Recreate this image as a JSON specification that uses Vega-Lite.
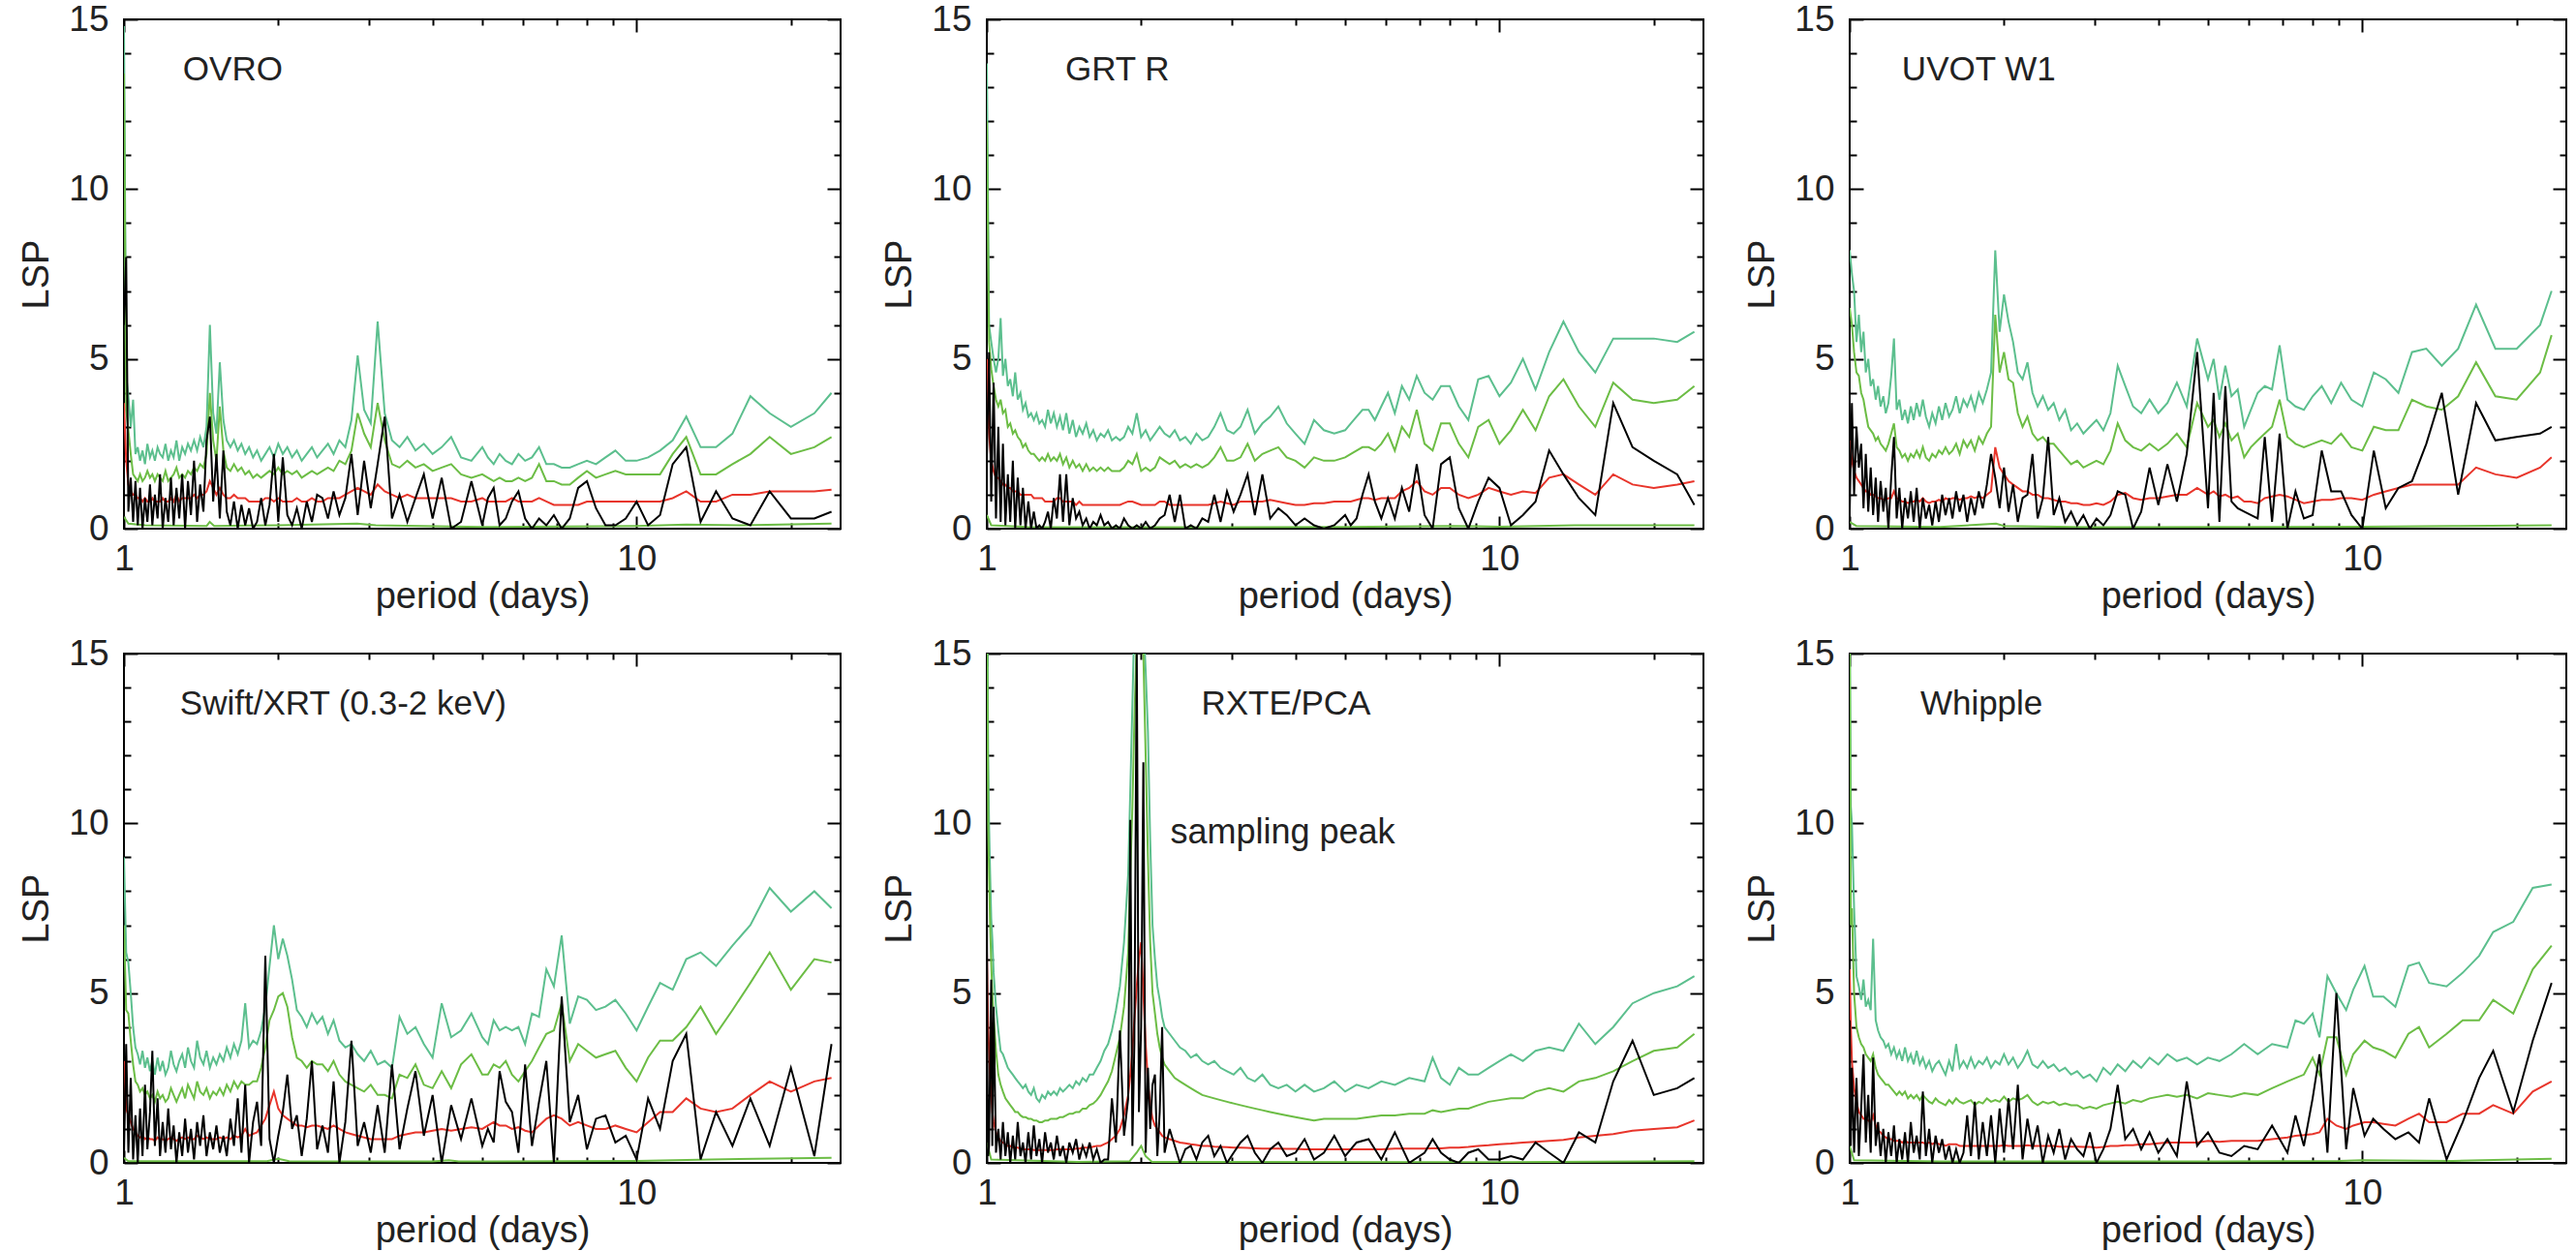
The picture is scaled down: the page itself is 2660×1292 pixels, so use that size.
{
"$schema":"https://vega.github.io/schema/vega-lite/v6.json",
"background":"white",
"padding":{"left":18,"top":0,"right":10,"bottom":10},
"config":{"view":{"stroke":"#000","strokeWidth":2},
"axis":{"domain":false,"grid":false,"tickColor":"#000","tickWidth":2,"labelFont":"Liberation Sans","labelFontSize":37,"labelColor":"#222","titleFont":"Liberation Sans","titleFontSize":38,"titleFontWeight":"normal","titleColor":"#222","labelOverlap":false},
"text":{"font":"Liberation Sans","fontSize":35,"color":"#222"}},
"datasets":{
"low":[
{"p":"OVRO","x":1,"l":0.35},{"p":"OVRO","x":1.02,"l":0.15},{"p":"OVRO","x":1.1,"l":0.1},{"p":"OVRO","x":1.45,"l":0.08},{"p":"OVRO","x":1.47,"l":0.2},{"p":"OVRO","x":1.5,"l":0.08},{"p":"OVRO","x":2,"l":0.1},{"p":"OVRO","x":2.85,"l":0.15},{"p":"OVRO","x":3.1,"l":0.1},{"p":"OVRO","x":5,"l":0.05},{"p":"OVRO","x":10,"l":0.08},{"p":"OVRO","x":12.5,"l":0.12},{"p":"OVRO","x":16,"l":0.1},{"p":"OVRO","x":24,"l":0.15},
{"p":"GRT","x":1,"l":0.4},{"p":"GRT","x":1.02,"l":0.1},{"p":"GRT","x":1.2,"l":0.05},{"p":"GRT","x":2,"l":0.04},{"p":"GRT","x":5,"l":0.05},{"p":"GRT","x":8,"l":0.08},{"p":"GRT","x":10,"l":0.06},{"p":"GRT","x":14,"l":0.1},{"p":"GRT","x":24,"l":0.1},
{"p":"UVOT","x":1,"l":0.2},{"p":"UVOT","x":1.03,"l":0.08},{"p":"UVOT","x":1.5,"l":0.05},{"p":"UVOT","x":1.93,"l":0.15},{"p":"UVOT","x":2,"l":0.08},{"p":"UVOT","x":3,"l":0.04},{"p":"UVOT","x":6,"l":0.05},{"p":"UVOT","x":10,"l":0.06},{"p":"UVOT","x":15,"l":0.08},{"p":"UVOT","x":23.4,"l":0.1},
{"p":"XRT","x":1,"l":0.15},{"p":"XRT","x":1.02,"l":0.05},{"p":"XRT","x":1.9,"l":0.05},{"p":"XRT","x":2,"l":0.12},{"p":"XRT","x":2.1,"l":0.05},{"p":"XRT","x":4,"l":0.04},{"p":"XRT","x":4.3,"l":0.08},{"p":"XRT","x":4.5,"l":0.04},{"p":"XRT","x":10,"l":0.06},{"p":"XRT","x":14,"l":0.1},{"p":"XRT","x":24,"l":0.15},
{"p":"PCA","x":1,"l":0.6},{"p":"PCA","x":1.02,"l":0.1},{"p":"PCA","x":1.5,"l":0.03},{"p":"PCA","x":1.9,"l":0.05},{"p":"PCA","x":1.96,"l":0.3},{"p":"PCA","x":2,"l":0.5},{"p":"PCA","x":2.04,"l":0.2},{"p":"PCA","x":2.1,"l":0.03},{"p":"PCA","x":10,"l":0.02},{"p":"PCA","x":24,"l":0.05},
{"p":"WHI","x":1,"l":0.5},{"p":"WHI","x":1.02,"l":0.08},{"p":"WHI","x":1.5,"l":0.04},{"p":"WHI","x":5,"l":0.04},{"p":"WHI","x":9,"l":0.06},{"p":"WHI","x":10,"l":0.08},{"p":"WHI","x":15,"l":0.06},{"p":"WHI","x":20,"l":0.1},{"p":"WHI","x":23.4,"l":0.12}],
"ovro":[
{"x":1,"a":14.8,"b":13.4,"m":3.7,"k":6},{"x":1.01,"a":4.5,"b":3.5,"m":2,"k":8},{"x":1.02,"a":3.9,"b":2.9,"m":1.3,"k":0.5},{"x":1.031,"a":3,"b":2.2,"m":1.1,"k":1.5},{"x":1.042,"a":3.8,"b":1.6,"m":1,"k":0.2},{"x":1.053,"a":2.2,"b":1.5,"m":1,"k":1.4},{"x":1.064,"a":2.4,"b":1.4,"m":0.9,"k":0.1},{"x":1.075,"a":2,"b":1.6,"m":0.9,"k":1.2},{"x":1.087,"a":2.3,"b":1.4,"m":0.8,"k":0},{"x":1.099,"a":1.9,"b":1.5,"m":0.9,"k":0.9},
{"x":1.111,"a":2.5,"b":1.7,"m":0.8,"k":0.2},{"x":1.124,"a":2.1,"b":1.5,"m":0.8,"k":1.3},{"x":1.136,"a":2.3,"b":1.6,"m":0.9,"k":0.1},{"x":1.149,"a":2,"b":1.4,"m":0.8,"k":1},{"x":1.163,"a":2.4,"b":1.6,"m":0.8,"k":0.3},{"x":1.176,"a":2.2,"b":1.5,"m":0.8,"k":1.6},{"x":1.19,"a":2.1,"b":1.4,"m":0.9,"k":0},{"x":1.205,"a":2.5,"b":1.7,"m":0.8,"k":0.9},{"x":1.22,"a":2,"b":1.4,"m":0.8,"k":0.2},{"x":1.235,"a":2.3,"b":1.5,"m":0.9,"k":1.5},
{"x":1.25,"a":2.1,"b":1.6,"m":0.8,"k":0.1},{"x":1.266,"a":2.6,"b":1.8,"m":1,"k":1.2},{"x":1.282,"a":2,"b":1.5,"m":0.8,"k":0.3},{"x":1.299,"a":2.4,"b":1.6,"m":0.9,"k":1.6},{"x":1.316,"a":2.2,"b":1.5,"m":0.9,"k":0},{"x":1.333,"a":2.5,"b":1.7,"m":0.9,"k":1.4},{"x":1.351,"a":2.3,"b":1.6,"m":0.9,"k":0.4},{"x":1.37,"a":2.6,"b":1.8,"m":1,"k":2},{"x":1.389,"a":2.3,"b":1.7,"m":0.9,"k":0.2},{"x":1.408,"a":2.7,"b":1.9,"m":1,"k":1.3},
{"x":1.429,"a":2.4,"b":1.8,"m":1,"k":0.5},{"x":1.449,"a":3,"b":2.2,"m":1.1,"k":2.6},{"x":1.471,"a":6,"b":4,"m":1.4,"k":3.3},{"x":1.493,"a":3.4,"b":2.6,"m":1.2,"k":0.8},{"x":1.515,"a":2.8,"b":2,"m":1,"k":2.2},{"x":1.538,"a":4.9,"b":3.6,"m":1.2,"k":0.3},{"x":1.563,"a":3.2,"b":2.3,"m":1,"k":2.3},{"x":1.587,"a":2.6,"b":1.8,"m":0.9,"k":0.5},{"x":1.613,"a":2.4,"b":1.7,"m":0.9,"k":0.1},{"x":1.639,"a":2.6,"b":1.9,"m":1,"k":0.8},
{"x":1.667,"a":2.3,"b":1.7,"m":0.9,"k":0},{"x":1.695,"a":2.5,"b":1.8,"m":0.9,"k":0.7},{"x":1.724,"a":2.2,"b":1.6,"m":0.9,"k":0.1},{"x":1.754,"a":2.4,"b":1.7,"m":0.8,"k":0.6},{"x":1.786,"a":2.1,"b":1.5,"m":0.8,"k":0},{"x":1.818,"a":2.3,"b":1.6,"m":0.8,"k":0.2},{"x":1.852,"a":2,"b":1.5,"m":0.8,"k":0.9},{"x":1.887,"a":2.2,"b":1.6,"m":0.9,"k":0.1},{"x":1.923,"a":2.4,"b":1.7,"m":0.9,"k":0.7},{"x":1.961,"a":2.1,"b":1.6,"m":0.8,"k":2.2},
{"x":2,"a":2.5,"b":1.8,"m":0.9,"k":0.2},{"x":2.041,"a":2.2,"b":1.6,"m":0.8,"k":2.1},{"x":2.083,"a":2.4,"b":1.7,"m":0.8,"k":0.4},{"x":2.128,"a":2.1,"b":1.6,"m":0.8,"k":0.1},{"x":2.174,"a":2.3,"b":1.7,"m":0.9,"k":0.6},{"x":2.222,"a":2,"b":1.5,"m":0.8,"k":0},{"x":2.273,"a":2.2,"b":1.6,"m":0.8,"k":0.8},{"x":2.326,"a":2.4,"b":1.7,"m":0.9,"k":0.2},{"x":2.381,"a":2.1,"b":1.6,"m":0.8,"k":1},{"x":2.439,"a":2.3,"b":1.7,"m":0.8,"k":0.9},
{"x":2.5,"a":2.5,"b":1.8,"m":0.9,"k":0.3},{"x":2.564,"a":2.2,"b":1.7,"m":0.9,"k":1.1},{"x":2.632,"a":2.6,"b":2,"m":0.9,"k":0.4},{"x":2.703,"a":2.4,"b":1.9,"m":1,"k":0.9},{"x":2.778,"a":3.2,"b":2.3,"m":1.1,"k":2.2},{"x":2.857,"a":5.1,"b":3.4,"m":1.2,"k":0.4},{"x":2.941,"a":3.5,"b":2.8,"m":1.1,"k":2},{"x":3.03,"a":3.1,"b":2.4,"m":1,"k":0.6},{"x":3.125,"a":6.1,"b":3.7,"m":1.3,"k":1.9},{"x":3.226,"a":3.4,"b":2.6,"m":1.1,"k":3.3},
{"x":3.333,"a":2.6,"b":1.9,"m":1,"k":0.3},{"x":3.448,"a":2.4,"b":1.8,"m":0.9,"k":1},{"x":3.571,"a":2.7,"b":2,"m":1,"k":0.2},{"x":3.704,"a":2.3,"b":1.8,"m":0.9,"k":0.9},{"x":3.846,"a":2.5,"b":1.9,"m":0.9,"k":1.6},{"x":4,"a":2.2,"b":1.7,"m":0.9,"k":0.3},{"x":4.167,"a":2.4,"b":1.8,"m":0.9,"k":1.5},{"x":4.348,"a":2.7,"b":1.9,"m":0.9,"k":0},{"x":4.545,"a":2.1,"b":1.6,"m":0.8,"k":0.2},{"x":4.762,"a":2,"b":1.5,"m":0.8,"k":1.4},
{"x":5,"a":2.4,"b":1.6,"m":0.9,"k":0.1},{"x":5.128,"a":2.1,"b":1.5,"m":0.8,"k":0.9},{"x":5.263,"a":1.9,"b":1.4,"m":0.8,"k":1.2},{"x":5.405,"a":2.2,"b":1.5,"m":0.8,"k":0.1},{"x":5.556,"a":2,"b":1.4,"m":0.8,"k":0.3},{"x":5.714,"a":1.9,"b":1.4,"m":0.9,"k":0.8},{"x":5.882,"a":2.2,"b":1.5,"m":0.8,"k":1.1},{"x":6.061,"a":2,"b":1.4,"m":0.8,"k":0.3},{"x":6.25,"a":2.1,"b":1.5,"m":0.8,"k":0},{"x":6.452,"a":2.4,"b":1.9,"m":0.9,"k":0.3},
{"x":6.667,"a":1.9,"b":1.4,"m":0.8,"k":0.1},{"x":6.897,"a":1.9,"b":1.4,"m":0.7,"k":0.4},{"x":7.143,"a":1.8,"b":1.3,"m":0.7,"k":0},{"x":7.407,"a":1.8,"b":1.3,"m":0.7,"k":0.3},{"x":7.692,"a":1.9,"b":1.5,"m":0.7,"k":1.2},{"x":8,"a":2,"b":1.7,"m":0.8,"k":1.4},{"x":8.333,"a":1.9,"b":1.5,"m":0.8,"k":0.6},{"x":8.696,"a":2.1,"b":1.6,"m":0.8,"k":0.1},{"x":9.091,"a":2.3,"b":1.7,"m":0.8,"k":0.1},{"x":9.524,"a":2,"b":1.6,"m":0.8,"k":0.3},
{"x":10,"a":2,"b":1.6,"m":0.8,"k":0.8},{"x":10.53,"a":2.1,"b":1.6,"m":0.8,"k":0.1},{"x":11.11,"a":2.3,"b":1.6,"m":0.8,"k":0.4},{"x":11.76,"a":2.6,"b":2.2,"m":0.9,"k":1.9},{"x":12.5,"a":3.3,"b":2.7,"m":1.1,"k":2.4},{"x":13.33,"a":2.4,"b":1.6,"m":0.8,"k":0.2},{"x":14.29,"a":2.4,"b":1.6,"m":0.8,"k":1.1},{"x":15.38,"a":2.8,"b":1.9,"m":1,"k":0.3},{"x":16.67,"a":3.9,"b":2.2,"m":1,"k":0.1},{"x":18.18,"a":3.4,"b":2.7,"m":1.1,"k":1.1},
{"x":20,"a":3,"b":2.2,"m":1.1,"k":0.3},{"x":22.22,"a":3.4,"b":2.4,"m":1.1,"k":0.3},{"x":24,"a":4,"b":2.7,"m":1.15,"k":0.5}],
"grt":[
{"x":1,"a":13.7,"b":12,"m":5,"k":2},{"x":1.01,"a":6,"b":5.5,"m":2.8,"k":5.2},{"x":1.02,"a":5.5,"b":4.7,"m":2,"k":0.8},{"x":1.031,"a":5,"b":4.2,"m":1.7,"k":4.3},{"x":1.042,"a":4.6,"b":3.8,"m":1.5,"k":0.3},{"x":1.053,"a":5,"b":3.6,"m":1.5,"k":3},{"x":1.064,"a":6.2,"b":3.8,"m":1.4,"k":0.2},{"x":1.075,"a":4.5,"b":3.4,"m":1.3,"k":2.5},{"x":1.087,"a":5,"b":3.5,"m":1.3,"k":0.1},{"x":1.099,"a":4.2,"b":3,"m":1.2,"k":1.6},
{"x":1.111,"a":4.4,"b":3.1,"m":1.2,"k":0.2},{"x":1.124,"a":3.9,"b":2.8,"m":1.1,"k":2},{"x":1.136,"a":4.6,"b":2.9,"m":1.1,"k":0},{"x":1.149,"a":3.8,"b":2.7,"m":1.1,"k":1.5},{"x":1.163,"a":4,"b":2.6,"m":1,"k":0.1},{"x":1.176,"a":3.5,"b":2.4,"m":1,"k":1.2},{"x":1.19,"a":3.7,"b":2.5,"m":1,"k":0},{"x":1.205,"a":3.3,"b":2.3,"m":1,"k":0.8},{"x":1.22,"a":3.4,"b":2.2,"m":1,"k":0},{"x":1.235,"a":3.2,"b":2.2,"m":0.9,"k":0.5},
{"x":1.25,"a":3.4,"b":2.1,"m":0.9,"k":0},{"x":1.266,"a":3.1,"b":2,"m":0.9,"k":0.1},{"x":1.282,"a":3.2,"b":2.1,"m":0.9,"k":0},{"x":1.299,"a":3,"b":2,"m":0.8,"k":0.2},{"x":1.316,"a":3.5,"b":2.2,"m":0.8,"k":0.5},{"x":1.333,"a":3.1,"b":2,"m":0.8,"k":0},{"x":1.351,"a":3.4,"b":2.1,"m":0.8,"k":0.9},{"x":1.37,"a":3,"b":2,"m":0.9,"k":0.3},{"x":1.389,"a":3.3,"b":2.2,"m":0.9,"k":1.6},{"x":1.408,"a":2.9,"b":1.9,"m":0.8,"k":0.2},
{"x":1.429,"a":3.4,"b":2.1,"m":0.8,"k":1.6},{"x":1.449,"a":2.8,"b":1.8,"m":0.8,"k":0.1},{"x":1.471,"a":3.2,"b":2,"m":0.8,"k":0.9},{"x":1.493,"a":2.7,"b":1.8,"m":0.7,"k":0.3},{"x":1.515,"a":3,"b":1.9,"m":0.8,"k":0.5},{"x":1.538,"a":2.8,"b":1.7,"m":0.7,"k":0.1},{"x":1.563,"a":3.1,"b":1.9,"m":0.7,"k":0.3},{"x":1.587,"a":2.7,"b":1.7,"m":0.7,"k":0},{"x":1.613,"a":2.9,"b":1.8,"m":0.7,"k":0.2},{"x":1.639,"a":2.6,"b":1.7,"m":0.7,"k":0.1},
{"x":1.667,"a":2.8,"b":1.8,"m":0.7,"k":0.4},{"x":1.695,"a":2.7,"b":1.7,"m":0.7,"k":0.1},{"x":1.724,"a":2.9,"b":1.8,"m":0.7,"k":0.2},{"x":1.754,"a":2.6,"b":1.7,"m":0.7,"k":0},{"x":1.786,"a":2.7,"b":1.7,"m":0.7,"k":0.1},{"x":1.818,"a":2.6,"b":1.7,"m":0.7,"k":0},{"x":1.852,"a":2.7,"b":1.8,"m":0.75,"k":0.3},{"x":1.887,"a":3,"b":2,"m":0.8,"k":0.1},{"x":1.923,"a":2.8,"b":1.9,"m":0.8,"k":0},{"x":1.961,"a":3.4,"b":2.2,"m":0.75,"k":0.1},
{"x":2,"a":2.7,"b":1.7,"m":0.7,"k":0},{"x":2.041,"a":2.9,"b":1.8,"m":0.7,"k":0.2},{"x":2.083,"a":2.6,"b":1.7,"m":0.7,"k":0},{"x":2.128,"a":2.8,"b":1.8,"m":0.7,"k":0.1},{"x":2.174,"a":3,"b":2.1,"m":0.8,"k":0.3},{"x":2.222,"a":2.8,"b":2,"m":0.8,"k":0.4},{"x":2.273,"a":2.7,"b":1.9,"m":0.7,"k":1},{"x":2.326,"a":2.9,"b":2,"m":0.7,"k":0.2},{"x":2.381,"a":2.6,"b":1.8,"m":0.7,"k":1},{"x":2.439,"a":2.7,"b":1.9,"m":0.7,"k":0},
{"x":2.5,"a":2.5,"b":1.8,"m":0.7,"k":0.1},{"x":2.564,"a":2.8,"b":1.9,"m":0.7,"k":0},{"x":2.632,"a":2.6,"b":1.8,"m":0.7,"k":0.3},{"x":2.703,"a":2.7,"b":1.9,"m":0.7,"k":0.2},{"x":2.778,"a":3,"b":2.1,"m":0.75,"k":1},{"x":2.857,"a":3.4,"b":2.4,"m":0.8,"k":0.2},{"x":2.941,"a":2.9,"b":2,"m":0.75,"k":1.1},{"x":3.03,"a":2.8,"b":2,"m":0.7,"k":0.5},{"x":3.125,"a":3,"b":2.1,"m":0.8,"k":1},{"x":3.226,"a":3.5,"b":2.5,"m":0.8,"k":1.6},
{"x":3.333,"a":2.8,"b":2,"m":0.8,"k":0.4},{"x":3.448,"a":3.1,"b":2.2,"m":0.8,"k":1.6},{"x":3.571,"a":3.3,"b":2.3,"m":0.85,"k":0.3},{"x":3.704,"a":3.6,"b":2.4,"m":0.8,"k":0.6},{"x":3.846,"a":3.1,"b":2.1,"m":0.75,"k":0.4},{"x":4,"a":2.8,"b":2,"m":0.7,"k":0.1},{"x":4.167,"a":2.5,"b":1.8,"m":0.7,"k":0.3},{"x":4.348,"a":3.2,"b":2.1,"m":0.75,"k":0.1},{"x":4.545,"a":2.9,"b":2,"m":0.75,"k":0},{"x":4.762,"a":2.8,"b":2,"m":0.8,"k":0.1},
{"x":5,"a":2.9,"b":2.1,"m":0.8,"k":0.4},{"x":5.128,"a":3.1,"b":2.2,"m":0.8,"k":0.1},{"x":5.263,"a":3.3,"b":2.3,"m":0.85,"k":0.3},{"x":5.405,"a":3.5,"b":2.4,"m":0.9,"k":1},{"x":5.556,"a":3.5,"b":2.4,"m":0.9,"k":1.6},{"x":5.714,"a":3.2,"b":2.3,"m":0.85,"k":0.8},{"x":5.882,"a":3.6,"b":2.5,"m":0.9,"k":0.3},{"x":6.061,"a":4,"b":2.8,"m":0.9,"k":0.9},{"x":6.25,"a":3.4,"b":2.3,"m":0.9,"k":0.3},{"x":6.452,"a":4.2,"b":3,"m":1.1,"k":1.2},
{"x":6.667,"a":3.8,"b":2.7,"m":1.2,"k":0.5},{"x":6.897,"a":4.5,"b":3.5,"m":1.4,"k":1.9},{"x":7.143,"a":4,"b":2.5,"m":1.1,"k":0.4},{"x":7.407,"a":3.8,"b":2.3,"m":1,"k":0},{"x":7.692,"a":4.2,"b":3.1,"m":1.2,"k":1.9},{"x":8,"a":4.2,"b":3.1,"m":1.2,"k":2.1},{"x":8.333,"a":3.6,"b":2.5,"m":1,"k":0.6},{"x":8.696,"a":3.2,"b":2.1,"m":0.9,"k":0},{"x":9.091,"a":4.4,"b":3,"m":1,"k":0.8},{"x":9.524,"a":4.5,"b":3.2,"m":1.2,"k":1.5},
{"x":10,"a":3.9,"b":2.5,"m":1.1,"k":1.2},{"x":10.53,"a":4.3,"b":2.9,"m":1,"k":0.1},{"x":11.11,"a":5,"b":3.5,"m":1.1,"k":0.4},{"x":11.76,"a":4.1,"b":2.9,"m":1.05,"k":0.8},{"x":12.5,"a":5.2,"b":3.9,"m":1.5,"k":2.3},{"x":13.33,"a":6.1,"b":4.4,"m":1.6,"k":1.6},{"x":14.29,"a":5.2,"b":3.6,"m":1.3,"k":0.9},{"x":15.38,"a":4.6,"b":3,"m":1,"k":0.4},{"x":16.67,"a":5.6,"b":4.3,"m":1.6,"k":3.7},{"x":18.18,"a":5.6,"b":3.8,"m":1.3,"k":2.4},
{"x":20,"a":5.6,"b":3.7,"m":1.2,"k":2},{"x":22.22,"a":5.5,"b":3.8,"m":1.3,"k":1.6},{"x":24,"a":5.8,"b":4.2,"m":1.4,"k":0.7}],
"uvot":[
{"x":1,"a":8.2,"b":6.5,"m":2.6,"k":0.5},{"x":1.01,"a":7.5,"b":6,"m":2,"k":3.7},{"x":1.02,"a":7,"b":5.2,"m":1.7,"k":1},{"x":1.031,"a":5.5,"b":4.6,"m":1.5,"k":3},{"x":1.042,"a":6.3,"b":4.5,"m":1.4,"k":1.8},{"x":1.053,"a":5.2,"b":4,"m":1.3,"k":2.5},{"x":1.064,"a":5.8,"b":3.8,"m":1.2,"k":0.6},{"x":1.075,"a":4.6,"b":3.4,"m":1.1,"k":2.2},{"x":1.087,"a":5,"b":3,"m":1.1,"k":0.5},{"x":1.099,"a":4.2,"b":2.9,"m":1,"k":1.8},
{"x":1.111,"a":4.4,"b":2.8,"m":1,"k":0.4},{"x":1.124,"a":3.8,"b":2.6,"m":0.95,"k":1.5},{"x":1.136,"a":4.2,"b":2.7,"m":0.9,"k":0.2},{"x":1.149,"a":3.6,"b":2.5,"m":0.9,"k":1.4},{"x":1.163,"a":3.9,"b":2.4,"m":0.85,"k":0.5},{"x":1.176,"a":3.4,"b":2.3,"m":0.85,"k":1.2},{"x":1.19,"a":3.7,"b":2.5,"m":0.9,"k":0},{"x":1.205,"a":4.5,"b":2.8,"m":0.9,"k":1.5},{"x":1.22,"a":5.6,"b":3.1,"m":1.1,"k":2.7},{"x":1.235,"a":3.5,"b":2.4,"m":0.9,"k":0.3},
{"x":1.25,"a":3.8,"b":2.3,"m":0.85,"k":1.2},{"x":1.266,"a":3.2,"b":2.1,"m":0.8,"k":0},{"x":1.282,"a":3.5,"b":2.2,"m":0.8,"k":0.9},{"x":1.299,"a":3.1,"b":2,"m":0.75,"k":0.3},{"x":1.316,"a":3.6,"b":2.2,"m":0.8,"k":1.1},{"x":1.333,"a":3.2,"b":2.1,"m":0.8,"k":0.2},{"x":1.351,"a":3.7,"b":2.3,"m":0.85,"k":1.2},{"x":1.37,"a":3.3,"b":2.1,"m":0.8,"k":0},{"x":1.389,"a":3.8,"b":2.4,"m":0.9,"k":0.9},{"x":1.408,"a":3.3,"b":2.1,"m":0.8,"k":0.3},
{"x":1.429,"a":3,"b":2,"m":0.75,"k":0.7},{"x":1.449,"a":3.4,"b":2.2,"m":0.8,"k":0.1},{"x":1.471,"a":3.1,"b":2.1,"m":0.8,"k":0.8},{"x":1.493,"a":3.6,"b":2.3,"m":0.85,"k":0.2},{"x":1.515,"a":3.2,"b":2.2,"m":0.8,"k":1},{"x":1.538,"a":3.7,"b":2.4,"m":0.9,"k":0.4},{"x":1.563,"a":3.3,"b":2.2,"m":0.85,"k":0.9},{"x":1.587,"a":3.5,"b":2.3,"m":0.9,"k":0.3},{"x":1.613,"a":3.9,"b":2.5,"m":0.9,"k":1.1},{"x":1.639,"a":3.4,"b":2.2,"m":0.85,"k":0.5},
{"x":1.667,"a":3.8,"b":2.6,"m":0.9,"k":1},{"x":1.695,"a":3.6,"b":2.4,"m":0.9,"k":0.2},{"x":1.724,"a":3.9,"b":2.6,"m":0.95,"k":0.9},{"x":1.754,"a":3.5,"b":2.3,"m":0.9,"k":0.4},{"x":1.786,"a":4,"b":2.7,"m":0.95,"k":1.1},{"x":1.818,"a":3.7,"b":2.5,"m":0.9,"k":0.6},{"x":1.852,"a":4.1,"b":2.8,"m":1,"k":1.3},{"x":1.887,"a":4.6,"b":3,"m":1.1,"k":2.2},{"x":1.923,"a":8.2,"b":6.3,"m":2.4,"k":1.5},{"x":1.961,"a":5.8,"b":4.6,"m":1.8,"k":0.6},
{"x":2,"a":6.9,"b":5.2,"m":1.6,"k":1.8},{"x":2.041,"a":6.1,"b":4.4,"m":1.4,"k":0.5},{"x":2.083,"a":5.5,"b":4.3,"m":1.3,"k":1.3},{"x":2.128,"a":4.6,"b":3.4,"m":1.2,"k":0.2},{"x":2.174,"a":4.4,"b":3,"m":1.1,"k":0.9},{"x":2.222,"a":4.9,"b":3.3,"m":1.1,"k":1},{"x":2.273,"a":4,"b":2.8,"m":1,"k":2.2},{"x":2.326,"a":3.6,"b":2.6,"m":1,"k":0.3},{"x":2.381,"a":3.9,"b":2.7,"m":0.9,"k":0.9},{"x":2.439,"a":3.5,"b":2.5,"m":0.9,"k":2.7},
{"x":2.5,"a":3.7,"b":2.5,"m":0.85,"k":0.4},{"x":2.564,"a":3.2,"b":2.3,"m":0.8,"k":0.9},{"x":2.632,"a":3.5,"b":2.1,"m":0.8,"k":0.2},{"x":2.703,"a":2.9,"b":1.9,"m":0.75,"k":0.5},{"x":2.778,"a":3.1,"b":2,"m":0.75,"k":0.1},{"x":2.857,"a":2.8,"b":1.8,"m":0.7,"k":0.4},{"x":2.941,"a":3,"b":1.9,"m":0.7,"k":0},{"x":3.03,"a":3.2,"b":2,"m":0.75,"k":0.3},{"x":3.125,"a":2.9,"b":1.9,"m":0.7,"k":0.1},{"x":3.226,"a":3.4,"b":2.3,"m":0.8,"k":0.4},
{"x":3.333,"a":4.8,"b":3.1,"m":1,"k":1.1},{"x":3.448,"a":4.2,"b":2.6,"m":1.05,"k":1},{"x":3.571,"a":3.6,"b":2.4,"m":0.9,"k":0},{"x":3.704,"a":3.4,"b":2.3,"m":0.85,"k":0.5},{"x":3.846,"a":3.8,"b":2.5,"m":0.9,"k":1.8},{"x":4,"a":3.4,"b":2.3,"m":0.9,"k":0.7},{"x":4.167,"a":3.7,"b":2.5,"m":0.95,"k":1.9},{"x":4.348,"a":4.3,"b":2.8,"m":1,"k":0.8},{"x":4.545,"a":3.6,"b":2.4,"m":1,"k":2.2},{"x":4.762,"a":5.6,"b":3.7,"m":1.2,"k":5.2},
{"x":5,"a":4.4,"b":3,"m":1,"k":0.6},{"x":5.128,"a":5,"b":3.2,"m":1.1,"k":4},{"x":5.263,"a":3.8,"b":2.7,"m":0.95,"k":0.2},{"x":5.405,"a":4.8,"b":3.1,"m":1,"k":4.2},{"x":5.556,"a":3.9,"b":2.6,"m":0.9,"k":0.8},{"x":5.714,"a":4.1,"b":2.8,"m":0.95,"k":0.6},{"x":5.882,"a":3,"b":2.1,"m":0.8,"k":0.5},{"x":6.061,"a":3.5,"b":2.4,"m":0.8,"k":0.4},{"x":6.25,"a":4,"b":2.6,"m":0.75,"k":0.3},{"x":6.452,"a":4.2,"b":2.8,"m":0.9,"k":2.7},
{"x":6.667,"a":4.1,"b":3,"m":0.95,"k":0.2},{"x":6.897,"a":5.4,"b":3.8,"m":1,"k":2.8},{"x":7.143,"a":3.8,"b":2.7,"m":0.95,"k":0},{"x":7.407,"a":3.6,"b":2.5,"m":0.85,"k":1.1},{"x":7.692,"a":3.5,"b":2.4,"m":0.75,"k":0.3},{"x":8,"a":3.9,"b":2.5,"m":0.8,"k":0.4},{"x":8.333,"a":4.2,"b":2.6,"m":0.85,"k":2.3},{"x":8.696,"a":3.7,"b":2.5,"m":0.85,"k":1.1},{"x":9.091,"a":4.3,"b":2.8,"m":0.9,"k":1.1},{"x":9.524,"a":3.8,"b":2.4,"m":0.9,"k":0.4},
{"x":10,"a":3.6,"b":2.3,"m":0.85,"k":0},{"x":10.53,"a":4.6,"b":3,"m":1,"k":2.3},{"x":11.11,"a":4.4,"b":2.9,"m":1.1,"k":0.6},{"x":11.76,"a":4,"b":2.9,"m":1.2,"k":1.2},{"x":12.5,"a":5.2,"b":3.8,"m":1.3,"k":1.4},{"x":13.33,"a":5.3,"b":3.6,"m":1.3,"k":2.5},{"x":14.29,"a":4.8,"b":3.5,"m":1.3,"k":4},{"x":15.38,"a":5.3,"b":3.9,"m":1.3,"k":1},{"x":16.67,"a":6.6,"b":4.9,"m":1.8,"k":3.7},{"x":18.18,"a":5.3,"b":3.9,"m":1.6,"k":2.6},
{"x":20,"a":5.3,"b":3.8,"m":1.5,"k":2.7},{"x":22.22,"a":6,"b":4.6,"m":1.8,"k":2.8},{"x":23.4,"a":7,"b":5.7,"m":2.1,"k":3}],
"xrt":[
{"x":1,"a":9,"b":7,"m":3,"k":0.2},{"x":1.01,"a":6.2,"b":4.5,"m":1.6,"k":3.5},{"x":1.02,"a":5.9,"b":4.4,"m":1.4,"k":0.3},{"x":1.031,"a":5,"b":3.6,"m":1.2,"k":2.5},{"x":1.042,"a":4,"b":2.9,"m":1,"k":0.1},{"x":1.053,"a":3.4,"b":2.4,"m":0.9,"k":1.4},{"x":1.064,"a":3.2,"b":2.3,"m":0.8,"k":0},{"x":1.075,"a":2.9,"b":2.1,"m":0.75,"k":1.6},{"x":1.087,"a":3.3,"b":2.2,"m":0.8,"k":0.2},{"x":1.099,"a":2.8,"b":2,"m":0.7,"k":2.3},
{"x":1.111,"a":3.1,"b":2.1,"m":0.75,"k":0.4},{"x":1.124,"a":2.7,"b":1.9,"m":0.7,"k":1.5},{"x":1.136,"a":3,"b":2,"m":0.7,"k":3.3},{"x":1.149,"a":2.6,"b":1.8,"m":0.65,"k":0.5},{"x":1.163,"a":3.1,"b":2.1,"m":0.75,"k":1.9},{"x":1.176,"a":2.7,"b":1.9,"m":0.7,"k":0.2},{"x":1.19,"a":3,"b":2,"m":0.7,"k":1.2},{"x":1.205,"a":2.6,"b":1.8,"m":0.65,"k":0.3},{"x":1.22,"a":2.8,"b":1.9,"m":0.7,"k":1.6},{"x":1.235,"a":3.3,"b":2.2,"m":0.75,"k":0.4},
{"x":1.25,"a":2.9,"b":2,"m":0.7,"k":1.1},{"x":1.266,"a":2.7,"b":1.8,"m":0.65,"k":0},{"x":1.282,"a":3,"b":2,"m":0.7,"k":0.9},{"x":1.299,"a":3.2,"b":2.2,"m":0.75,"k":0.2},{"x":1.316,"a":2.8,"b":1.9,"m":0.7,"k":1.3},{"x":1.333,"a":3.4,"b":2.3,"m":0.75,"k":0.3},{"x":1.351,"a":3,"b":2.1,"m":0.7,"k":1},{"x":1.37,"a":2.8,"b":1.9,"m":0.7,"k":0.1},{"x":1.389,"a":3.6,"b":2.4,"m":0.8,"k":1.2},{"x":1.408,"a":3.1,"b":2.1,"m":0.75,"k":0.5},
{"x":1.429,"a":2.9,"b":2,"m":0.7,"k":1.4},{"x":1.449,"a":3.3,"b":2.2,"m":0.75,"k":0.2},{"x":1.471,"a":2.8,"b":1.9,"m":0.7,"k":0.9},{"x":1.493,"a":3.1,"b":2.1,"m":0.7,"k":0.4},{"x":1.515,"a":2.9,"b":2,"m":0.7,"k":1.1},{"x":1.538,"a":3.2,"b":2.2,"m":0.75,"k":0.3},{"x":1.563,"a":3,"b":2,"m":0.7,"k":0.8},{"x":1.587,"a":3.4,"b":2.3,"m":0.75,"k":0.2},{"x":1.613,"a":3.1,"b":2.1,"m":0.7,"k":1.3},{"x":1.639,"a":3.5,"b":2.4,"m":0.8,"k":0.5},
{"x":1.667,"a":3.2,"b":2.2,"m":0.75,"k":1.9},{"x":1.695,"a":3.6,"b":2.4,"m":0.8,"k":0.3},{"x":1.724,"a":4.7,"b":2.3,"m":1,"k":2.3},{"x":1.754,"a":3.4,"b":2.3,"m":0.8,"k":0},{"x":1.786,"a":3.6,"b":2.4,"m":0.85,"k":1.2},{"x":1.818,"a":3.5,"b":2.4,"m":0.9,"k":1.8},{"x":1.852,"a":3.9,"b":2.8,"m":1.1,"k":0.5},{"x":1.887,"a":4.6,"b":3.4,"m":1.3,"k":6.1},{"x":1.923,"a":5.8,"b":4.2,"m":1.7,"k":0.7},{"x":1.961,"a":7,"b":4.5,"m":2.1,"k":0},
{"x":2,"a":6,"b":4.9,"m":1.6,"k":0.8},{"x":2.041,"a":6.6,"b":5,"m":1.4,"k":1.5},{"x":2.083,"a":6.1,"b":4.6,"m":1.3,"k":2.6},{"x":2.128,"a":5.4,"b":3.7,"m":1.2,"k":1},{"x":2.174,"a":4.5,"b":3.1,"m":1.1,"k":1.4},{"x":2.222,"a":4.3,"b":3,"m":1.1,"k":0.2},{"x":2.273,"a":4,"b":2.8,"m":1.05,"k":1.3},{"x":2.326,"a":4.4,"b":3,"m":1.1,"k":3},{"x":2.381,"a":4.1,"b":2.9,"m":1.1,"k":0.4},{"x":2.439,"a":4.3,"b":2.9,"m":1.05,"k":1.1},
{"x":2.5,"a":3.8,"b":2.7,"m":1,"k":0.3},{"x":2.564,"a":4.2,"b":3,"m":1.1,"k":2.4},{"x":2.632,"a":3.6,"b":2.6,"m":1,"k":0},{"x":2.703,"a":3.4,"b":2.4,"m":0.9,"k":1.2},{"x":2.778,"a":3.5,"b":2.3,"m":0.85,"k":3.6},{"x":2.857,"a":3.2,"b":2.2,"m":0.8,"k":0.5},{"x":2.941,"a":3,"b":2.1,"m":0.75,"k":1.2},{"x":3.03,"a":3.3,"b":2.3,"m":0.7,"k":0.3},{"x":3.125,"a":2.9,"b":2,"m":0.7,"k":1.7},{"x":3.226,"a":3,"b":2,"m":0.7,"k":0.3},
{"x":3.333,"a":2.8,"b":1.9,"m":0.7,"k":2.9},{"x":3.448,"a":4.3,"b":2.6,"m":0.8,"k":0.4},{"x":3.571,"a":3.8,"b":2.5,"m":0.85,"k":1.6},{"x":3.704,"a":4,"b":2.9,"m":0.9,"k":2.7},{"x":3.846,"a":3.5,"b":2.3,"m":0.9,"k":0.8},{"x":4,"a":3.1,"b":2.2,"m":0.95,"k":2},{"x":4.167,"a":4.7,"b":2.7,"m":1,"k":0},{"x":4.348,"a":3.7,"b":2.2,"m":0.95,"k":1.7},{"x":4.545,"a":3.9,"b":2.9,"m":1,"k":0.7},{"x":4.762,"a":4.4,"b":3.2,"m":1.05,"k":1.9},
{"x":5,"a":3.7,"b":2.6,"m":1,"k":0.5},{"x":5.128,"a":3.5,"b":2.6,"m":1.1,"k":1},{"x":5.263,"a":4.2,"b":2.9,"m":1.2,"k":0.6},{"x":5.405,"a":3.9,"b":2.8,"m":1.1,"k":2.7},{"x":5.556,"a":4,"b":3,"m":1.1,"k":1.8},{"x":5.714,"a":3.9,"b":2.6,"m":1,"k":1.5},{"x":5.882,"a":4,"b":2.4,"m":1.05,"k":0.3},{"x":6.061,"a":3.5,"b":2.7,"m":0.95,"k":2.9},{"x":6.25,"a":4.4,"b":3,"m":0.9,"k":0.5},{"x":6.452,"a":4.3,"b":3.4,"m":1.1,"k":1.8},
{"x":6.667,"a":5.7,"b":3.8,"m":1.3,"k":3},{"x":6.897,"a":5.2,"b":3.9,"m":1.4,"k":0},{"x":7.143,"a":6.7,"b":4.7,"m":1.3,"k":4.9},{"x":7.407,"a":4.1,"b":3,"m":1.1,"k":1.2},{"x":7.692,"a":4.9,"b":3.5,"m":1.2,"k":2},{"x":8,"a":4.8,"b":3.3,"m":1.1,"k":0.4},{"x":8.333,"a":4.5,"b":3.1,"m":1,"k":1.3},{"x":8.696,"a":4.6,"b":3.2,"m":1,"k":1.4},{"x":9.091,"a":4.8,"b":3.3,"m":1.1,"k":0.6},{"x":9.524,"a":4.4,"b":2.8,"m":1,"k":0.8},
{"x":10,"a":3.9,"b":2.4,"m":0.9,"k":0.1},{"x":10.53,"a":4.6,"b":3.1,"m":1.2,"k":1.9},{"x":11.11,"a":5.3,"b":3.6,"m":1.5,"k":1},{"x":11.76,"a":5.1,"b":3.6,"m":1.5,"k":3},{"x":12.5,"a":6,"b":4,"m":1.9,"k":3.8},{"x":13.33,"a":6.2,"b":4.6,"m":1.6,"k":0.1},{"x":14.29,"a":5.8,"b":3.8,"m":1.5,"k":1.5},{"x":15.38,"a":6.4,"b":4.5,"m":1.6,"k":0.5},{"x":16.67,"a":7,"b":5.3,"m":2,"k":1.9},{"x":18.18,"a":8.1,"b":6.2,"m":2.4,"k":0.5},
{"x":20,"a":7.4,"b":5.1,"m":2.1,"k":2.8},{"x":22.22,"a":8,"b":6,"m":2.4,"k":0.2},{"x":24,"a":7.5,"b":5.9,"m":2.5,"k":3.5}],
"pca":[
{"x":1,"a":16,"b":16,"m":6.2,"k":8},{"x":1.003,"a":15.5,"b":14,"m":5,"k":2.5},{"x":1.006,"a":12,"b":10,"m":4,"k":0.2},{"x":1.01,"a":10,"b":8.5,"m":3.3,"k":0.5},{"x":1.015,"a":8.5,"b":7,"m":2.5,"k":3},{"x":1.02,"a":7.2,"b":5.9,"m":2,"k":5.4},{"x":1.025,"a":6.6,"b":5,"m":1.5,"k":0.5},{"x":1.031,"a":5.6,"b":4.3,"m":1.2,"k":4.6},{"x":1.042,"a":4.6,"b":3.3,"m":0.9,"k":0.3},{"x":1.053,"a":3.9,"b":2.6,"m":0.75,"k":1},
{"x":1.064,"a":3.3,"b":2.3,"m":0.65,"k":0.1},{"x":1.075,"a":3.2,"b":2.1,"m":0.6,"k":1.2},{"x":1.087,"a":3,"b":1.9,"m":0.55,"k":0.2},{"x":1.099,"a":2.8,"b":1.8,"m":0.5,"k":0.9},{"x":1.111,"a":2.7,"b":1.7,"m":0.5,"k":0},{"x":1.124,"a":2.6,"b":1.6,"m":0.45,"k":0.8},{"x":1.136,"a":2.5,"b":1.5,"m":0.45,"k":0.1},{"x":1.149,"a":2.4,"b":1.5,"m":0.45,"k":1.2},{"x":1.163,"a":2.3,"b":1.4,"m":0.42,"k":0.2},{"x":1.176,"a":2.2,"b":1.35,"m":0.4,"k":0.6},
{"x":1.19,"a":2.3,"b":1.35,"m":0.4,"k":0},{"x":1.205,"a":2.1,"b":1.3,"m":0.4,"k":0.9},{"x":1.22,"a":2,"b":1.3,"m":0.4,"k":0.1},{"x":1.235,"a":2.2,"b":1.25,"m":0.38,"k":1.1},{"x":1.25,"a":1.9,"b":1.25,"m":0.38,"k":0.2},{"x":1.266,"a":1.8,"b":1.2,"m":0.38,"k":0.7},{"x":1.282,"a":2,"b":1.2,"m":0.38,"k":0},{"x":1.299,"a":1.9,"b":1.25,"m":0.38,"k":0.9},{"x":1.316,"a":2.1,"b":1.25,"m":0.38,"k":0.3},{"x":1.333,"a":2,"b":1.3,"m":0.38,"k":0.6},
{"x":1.351,"a":2.1,"b":1.3,"m":0.38,"k":0.1},{"x":1.37,"a":2,"b":1.3,"m":0.4,"k":0.8},{"x":1.389,"a":2.2,"b":1.35,"m":0.4,"k":0.2},{"x":1.408,"a":2.1,"b":1.35,"m":0.4,"k":0.5},{"x":1.429,"a":2.2,"b":1.4,"m":0.4,"k":0},{"x":1.449,"a":2.3,"b":1.45,"m":0.4,"k":0.6},{"x":1.471,"a":2.2,"b":1.45,"m":0.4,"k":0.3},{"x":1.493,"a":2.4,"b":1.5,"m":0.42,"k":0.7},{"x":1.515,"a":2.3,"b":1.5,"m":0.42,"k":0.1},{"x":1.538,"a":2.5,"b":1.6,"m":0.45,"k":0.5},
{"x":1.563,"a":2.4,"b":1.6,"m":0.45,"k":0.2},{"x":1.587,"a":2.6,"b":1.7,"m":0.45,"k":0.6},{"x":1.613,"a":2.6,"b":1.75,"m":0.48,"k":0.1},{"x":1.639,"a":2.8,"b":1.85,"m":0.5,"k":0.4},{"x":1.667,"a":3,"b":2,"m":0.5,"k":0},{"x":1.695,"a":3.3,"b":2.2,"m":0.55,"k":0.1},{"x":1.724,"a":3.5,"b":2.4,"m":0.6,"k":0.1},{"x":1.754,"a":3.9,"b":2.7,"m":0.7,"k":1.9},{"x":1.786,"a":4.5,"b":3.2,"m":0.8,"k":0.6},{"x":1.818,"a":5.2,"b":3.7,"m":1,"k":3.9},
{"x":1.852,"a":6.5,"b":4.6,"m":1.4,"k":0.8},{"x":1.887,"a":8.5,"b":6.2,"m":2,"k":1.9},{"x":1.905,"a":11,"b":8.5,"m":2.6,"k":10.1},{"x":1.923,"a":13.5,"b":10.5,"m":3.3,"k":0.5},{"x":1.94,"a":16,"b":13,"m":4.2,"k":3.5},{"x":1.961,"a":16,"b":15.5,"m":5.2,"k":15.2},{"x":1.98,"a":16,"b":16,"m":6,"k":1.5},{"x":2,"a":16,"b":16,"m":6.5,"k":4},{"x":2.02,"a":16,"b":15,"m":5,"k":11.8},{"x":2.041,"a":14.5,"b":12,"m":3.5,"k":0.3},
{"x":2.062,"a":12.7,"b":9,"m":2.4,"k":2.8},{"x":2.083,"a":9.5,"b":6.5,"m":1.7,"k":1},{"x":2.105,"a":7,"b":5,"m":1.3,"k":2.3},{"x":2.128,"a":6,"b":4.4,"m":1.1,"k":2.6},{"x":2.151,"a":5.2,"b":3.8,"m":1,"k":0.2},{"x":2.174,"a":4.8,"b":3.4,"m":0.9,"k":1.5},{"x":2.198,"a":4.3,"b":3.1,"m":0.8,"k":4},{"x":2.222,"a":4,"b":2.9,"m":0.75,"k":0.3},{"x":2.273,"a":3.8,"b":2.7,"m":0.7,"k":1},{"x":2.326,"a":3.6,"b":2.5,"m":0.65,"k":0.5},
{"x":2.381,"a":3.4,"b":2.4,"m":0.6,"k":0},{"x":2.439,"a":3.3,"b":2.3,"m":0.58,"k":0.4},{"x":2.5,"a":3.1,"b":2.2,"m":0.55,"k":0.5},{"x":2.564,"a":3.2,"b":2.1,"m":0.53,"k":0.1},{"x":2.632,"a":3,"b":2,"m":0.5,"k":0.6},{"x":2.703,"a":2.9,"b":1.95,"m":0.5,"k":0.8},{"x":2.778,"a":3,"b":1.9,"m":0.48,"k":0.2},{"x":2.857,"a":2.8,"b":1.85,"m":0.47,"k":0.5},{"x":2.941,"a":2.7,"b":1.8,"m":0.46,"k":0},{"x":3.03,"a":2.6,"b":1.75,"m":0.45,"k":0.3},
{"x":3.125,"a":2.8,"b":1.7,"m":0.45,"k":0.6},{"x":3.226,"a":2.5,"b":1.65,"m":0.44,"k":0.8},{"x":3.333,"a":2.4,"b":1.6,"m":0.43,"k":0.3},{"x":3.448,"a":2.6,"b":1.55,"m":0.42,"k":0},{"x":3.571,"a":2.3,"b":1.5,"m":0.42,"k":0.4},{"x":3.704,"a":2.2,"b":1.45,"m":0.42,"k":0.6},{"x":3.846,"a":2.3,"b":1.4,"m":0.41,"k":0.2},{"x":4,"a":2.1,"b":1.35,"m":0.41,"k":0.3},{"x":4.167,"a":2.3,"b":1.3,"m":0.4,"k":0.7},{"x":4.348,"a":2.1,"b":1.25,"m":0.4,"k":0.1},
{"x":4.545,"a":2.2,"b":1.3,"m":0.4,"k":0.3},{"x":4.762,"a":2.4,"b":1.3,"m":0.4,"k":0.8},{"x":5,"a":2.1,"b":1.3,"m":0.4,"k":0.2},{"x":5.263,"a":2.3,"b":1.3,"m":0.4,"k":0.6},{"x":5.556,"a":2.2,"b":1.35,"m":0.4,"k":0.7},{"x":5.882,"a":2.4,"b":1.4,"m":0.4,"k":0.1},{"x":6.25,"a":2.3,"b":1.4,"m":0.42,"k":0.9},{"x":6.667,"a":2.5,"b":1.45,"m":0.42,"k":0},{"x":7.143,"a":2.4,"b":1.45,"m":0.42,"k":0.3},{"x":7.407,"a":3.1,"b":1.55,"m":0.43,"k":0.7},
{"x":7.692,"a":2.5,"b":1.5,"m":0.43,"k":0.3},{"x":8,"a":2.3,"b":1.55,"m":0.45,"k":0.1},{"x":8.333,"a":2.8,"b":1.6,"m":0.45,"k":0},{"x":8.696,"a":2.6,"b":1.6,"m":0.47,"k":0.3},{"x":9.091,"a":2.6,"b":1.7,"m":0.5,"k":0.4},{"x":9.524,"a":2.8,"b":1.8,"m":0.52,"k":0.1},{"x":10,"a":3,"b":1.85,"m":0.55,"k":0.1},{"x":10.53,"a":3.2,"b":1.9,"m":0.57,"k":0.2},{"x":11.11,"a":3,"b":1.9,"m":0.6,"k":0.1},{"x":11.76,"a":3.3,"b":2.1,"m":0.62,"k":0.6},
{"x":12.5,"a":3.4,"b":2.2,"m":0.65,"k":0.3},{"x":13.33,"a":3.3,"b":2.1,"m":0.68,"k":0},{"x":14.29,"a":4.1,"b":2.4,"m":0.75,"k":0.9},{"x":15.38,"a":3.5,"b":2.5,"m":0.8,"k":0.6},{"x":16.67,"a":4,"b":2.7,"m":0.85,"k":2.4},{"x":18.18,"a":4.7,"b":3,"m":0.95,"k":3.6},{"x":20,"a":5,"b":3.3,"m":1,"k":2},{"x":22.22,"a":5.2,"b":3.4,"m":1.05,"k":2.2},{"x":24,"a":5.5,"b":3.8,"m":1.25,"k":2.5}],
"whi":[
{"x":1,"a":16,"b":16,"m":5.7,"k":4.2},{"x":1.005,"a":10.5,"b":7,"m":4,"k":0.5},{"x":1.01,"a":10,"b":7.5,"m":3,"k":2.8},{"x":1.02,"a":7.5,"b":5,"m":2.2,"k":0.3},{"x":1.031,"a":5.5,"b":4,"m":1.8,"k":2.5},{"x":1.042,"a":5.2,"b":3.7,"m":1.5,"k":0.2},{"x":1.053,"a":4.8,"b":3.5,"m":1.4,"k":1.6},{"x":1.064,"a":5.4,"b":3.4,"m":1.3,"k":3.2},{"x":1.075,"a":4.6,"b":3.2,"m":1.3,"k":0.6},{"x":1.087,"a":4.8,"b":3.1,"m":1.25,"k":2},
{"x":1.099,"a":4.5,"b":3,"m":1.2,"k":0.3},{"x":1.111,"a":6.6,"b":3.2,"m":1.4,"k":3.1},{"x":1.124,"a":4.2,"b":2.8,"m":1.1,"k":0.5},{"x":1.136,"a":3.9,"b":2.6,"m":0.95,"k":1.2},{"x":1.149,"a":3.7,"b":2.5,"m":0.9,"k":0.2},{"x":1.163,"a":3.6,"b":2.4,"m":0.8,"k":1},{"x":1.176,"a":3.4,"b":2.3,"m":0.75,"k":0},{"x":1.19,"a":3.5,"b":2.3,"m":0.7,"k":0.9},{"x":1.205,"a":3.2,"b":2.2,"m":0.7,"k":0.2},{"x":1.22,"a":3.4,"b":2.1,"m":0.65,"k":1.1},
{"x":1.235,"a":3.1,"b":2,"m":0.65,"k":0},{"x":1.25,"a":3.3,"b":2.1,"m":0.65,"k":0.7},{"x":1.266,"a":3,"b":2,"m":0.6,"k":0.1},{"x":1.282,"a":3.4,"b":2.1,"m":0.65,"k":0.9},{"x":1.299,"a":3,"b":1.9,"m":0.6,"k":0},{"x":1.316,"a":3.2,"b":2,"m":0.6,"k":1.2},{"x":1.333,"a":2.9,"b":1.9,"m":0.6,"k":0.3},{"x":1.351,"a":3.3,"b":2,"m":0.6,"k":0.8},{"x":1.37,"a":2.9,"b":1.85,"m":0.6,"k":0.1},{"x":1.389,"a":3.1,"b":2,"m":0.6,"k":2.1},
{"x":1.408,"a":2.8,"b":1.9,"m":0.55,"k":0.2},{"x":1.429,"a":3,"b":1.8,"m":0.6,"k":1},{"x":1.449,"a":2.7,"b":1.75,"m":0.55,"k":0},{"x":1.471,"a":2.9,"b":1.9,"m":0.6,"k":0.8},{"x":1.493,"a":3,"b":1.8,"m":0.55,"k":0.3},{"x":1.515,"a":2.8,"b":1.75,"m":0.55,"k":0.7},{"x":1.538,"a":2.6,"b":1.7,"m":0.5,"k":0.1},{"x":1.563,"a":3,"b":1.85,"m":0.55,"k":0.5},{"x":1.587,"a":2.7,"b":1.75,"m":0.55,"k":0},{"x":1.613,"a":3.5,"b":1.9,"m":0.55,"k":0.4},
{"x":1.639,"a":2.8,"b":1.8,"m":0.5,"k":0},{"x":1.667,"a":3,"b":1.75,"m":0.5,"k":0.3},{"x":1.695,"a":2.8,"b":1.8,"m":0.5,"k":1.4},{"x":1.724,"a":3.1,"b":1.85,"m":0.5,"k":0.2},{"x":1.754,"a":2.8,"b":1.7,"m":0.5,"k":1.8},{"x":1.786,"a":3,"b":1.8,"m":0.5,"k":0.1},{"x":1.818,"a":2.9,"b":1.75,"m":0.5,"k":1.2},{"x":1.852,"a":3.1,"b":1.9,"m":0.5,"k":0.2},{"x":1.887,"a":2.8,"b":1.8,"m":0.5,"k":1.4},{"x":1.923,"a":3,"b":1.85,"m":0.5,"k":0},
{"x":1.961,"a":2.9,"b":1.8,"m":0.5,"k":1.6},{"x":2,"a":3.2,"b":1.95,"m":0.52,"k":0.3},{"x":2.041,"a":2.9,"b":1.8,"m":0.5,"k":1.9},{"x":2.083,"a":3.1,"b":1.9,"m":0.5,"k":0.4},{"x":2.128,"a":2.8,"b":1.85,"m":0.5,"k":2.3},{"x":2.174,"a":3,"b":1.9,"m":0.5,"k":0.1},{"x":2.222,"a":3.3,"b":2,"m":0.52,"k":1.3},{"x":2.273,"a":2.9,"b":1.8,"m":0.5,"k":0.4},{"x":2.326,"a":2.8,"b":1.7,"m":0.5,"k":1.1},{"x":2.381,"a":3,"b":1.8,"m":0.5,"k":0},
{"x":2.439,"a":2.8,"b":1.75,"m":0.5,"k":0.8},{"x":2.5,"a":2.9,"b":1.8,"m":0.5,"k":0.3},{"x":2.564,"a":2.7,"b":1.7,"m":0.48,"k":1},{"x":2.632,"a":2.8,"b":1.75,"m":0.48,"k":0.1},{"x":2.703,"a":2.6,"b":1.7,"m":0.48,"k":0.7},{"x":2.778,"a":2.7,"b":1.7,"m":0.48,"k":0.4},{"x":2.857,"a":2.5,"b":1.6,"m":0.47,"k":0.2},{"x":2.941,"a":2.6,"b":1.65,"m":0.47,"k":0.9},{"x":3.03,"a":2.4,"b":1.6,"m":0.45,"k":0},{"x":3.125,"a":2.8,"b":1.7,"m":0.47,"k":0.4},
{"x":3.226,"a":2.6,"b":1.75,"m":0.5,"k":1},{"x":3.333,"a":2.9,"b":1.8,"m":0.5,"k":2.3},{"x":3.448,"a":2.7,"b":1.75,"m":0.52,"k":0.7},{"x":3.571,"a":3,"b":1.85,"m":0.52,"k":1},{"x":3.704,"a":2.8,"b":1.8,"m":0.55,"k":0.4},{"x":3.846,"a":3.1,"b":1.9,"m":0.55,"k":0.9},{"x":4,"a":2.9,"b":1.95,"m":0.58,"k":0.3},{"x":4.167,"a":3.2,"b":2,"m":0.6,"k":0.7},{"x":4.348,"a":3,"b":1.95,"m":0.6,"k":0.2},{"x":4.545,"a":3.1,"b":2,"m":0.6,"k":2.4},
{"x":4.762,"a":2.9,"b":1.9,"m":0.6,"k":0.5},{"x":5,"a":3.1,"b":2.05,"m":0.65,"k":0.9},{"x":5.263,"a":3,"b":2,"m":0.62,"k":0.3},{"x":5.556,"a":3.2,"b":1.95,"m":0.65,"k":0.2},{"x":5.882,"a":3.5,"b":2.05,"m":0.65,"k":0.5},{"x":6.25,"a":3.2,"b":2,"m":0.65,"k":0.4},{"x":6.667,"a":3.5,"b":2.2,"m":0.7,"k":1.1},{"x":7.143,"a":3.4,"b":2.4,"m":0.75,"k":0.3},{"x":7.407,"a":4.2,"b":2.5,"m":0.8,"k":1.4},{"x":7.692,"a":4.1,"b":2.6,"m":0.82,"k":0.5},
{"x":8,"a":4.4,"b":3.1,"m":0.85,"k":1.9},{"x":8.25,"a":3.7,"b":2.6,"m":0.9,"k":3.2},{"x":8.55,"a":5.5,"b":3.7,"m":1.3,"k":0.3},{"x":8.9,"a":5,"b":3.7,"m":1.1,"k":5},{"x":9.3,"a":4.5,"b":2.6,"m":1,"k":0.4},{"x":9.6,"a":5.1,"b":3.2,"m":1.1,"k":2.2},{"x":10.1,"a":5.8,"b":3.6,"m":1.2,"k":0.8},{"x":10.5,"a":4.9,"b":3.4,"m":1.2,"k":1.3},{"x":11,"a":4.9,"b":3.3,"m":1.15,"k":1},{"x":11.6,"a":4.6,"b":3.1,"m":1.1,"k":0.7},
{"x":12.3,"a":5.8,"b":3.8,"m":1.3,"k":0.9},{"x":12.9,"a":5.9,"b":4,"m":1.45,"k":0.6},{"x":13.5,"a":5.3,"b":3.4,"m":1.2,"k":1.9},{"x":14.6,"a":5.2,"b":3.8,"m":1.2,"k":0.1},{"x":15.7,"a":5.6,"b":4.2,"m":1.45,"k":1.2},{"x":16.9,"a":6.1,"b":4.2,"m":1.45,"k":2.5},{"x":18,"a":6.8,"b":4.8,"m":1.7,"k":3.3},{"x":19.7,"a":7.1,"b":4.4,"m":1.45,"k":1.5},{"x":21.5,"a":8.1,"b":5.7,"m":2.1,"k":3.6},{"x":23.4,"a":8.2,"b":6.4,"m":2.4,"k":5.3}]
},
"columns":3,
"spacing":{"row":129,"column":151},
"bounds":"flush",
"concat":[
{"width":740,"height":526,"resolve":{"axis":{"x":"independent","y":"independent"}},"layer":[
{"data":{"name":"low"},"transform":[{"filter":"datum.p == 'OVRO'"}],"mark":{"type":"line","color":"#6cbd45","strokeWidth":2,"clip":true},"encoding":{"x":{"field":"x","type":"quantitative","scale":{"type":"log","domain":[1,25],"nice":false},"axis":{"orient":"top","values":[1,10],"tickSize":-13,"labels":false,"title":null}},"y":{"field":"l","type":"quantitative","scale":{"domain":[0,15],"nice":false,"zero":false},"axis":{"orient":"right","values":[0,5,10,15],"tickSize":-14,"labels":false,"title":null}}}},
{"data":{"name":"ovro"},"mark":{"type":"line","color":"#5cbf8e","strokeWidth":2,"clip":true},"encoding":{"x":{"field":"x","type":"quantitative","scale":{"type":"log","domain":[1,25],"nice":false},"axis":{"orient":"top","values":[2,3,4,5,6,7,8,9,20],"tickSize":-6,"labels":false,"title":null}},"y":{"field":"a","type":"quantitative","scale":{"domain":[0,15],"nice":false,"zero":false},"axis":{"orient":"right","values":[1,2,3,4,6,7,8,9,11,12,13,14],"tickSize":-7,"labels":false,"title":null}}}},
{"data":{"name":"ovro"},"mark":{"type":"line","color":"#6cbd45","strokeWidth":2,"clip":true},"encoding":{"x":{"field":"x","type":"quantitative","scale":{"type":"log","domain":[1,25],"nice":false},"axis":{"orient":"bottom","values":[1,10],"tickSize":-13,"labels":false,"title":null}},"y":{"field":"b","type":"quantitative","scale":{"domain":[0,15],"nice":false,"zero":false},"axis":{"orient":"left","values":[0,5,10,15],"tickSize":-14,"labels":false,"title":null}}}},
{"data":{"name":"ovro"},"mark":{"type":"line","color":"#e8352b","strokeWidth":2,"clip":true},"encoding":{"x":{"field":"x","type":"quantitative","scale":{"type":"log","domain":[1,25],"nice":false},"axis":{"orient":"bottom","values":[2,3,4,5,6,7,8,9,20],"tickSize":-6,"labels":false,"title":null}},"y":{"field":"m","type":"quantitative","scale":{"domain":[0,15],"nice":false,"zero":false},"axis":{"orient":"left","values":[1,2,3,4,6,7,8,9,11,12,13,14],"tickSize":-7,"labels":false,"title":null}}}},
{"data":{"name":"ovro"},"mark":{"type":"line","color":"#000","strokeWidth":2,"clip":true},"encoding":{"x":{"field":"x","type":"quantitative","scale":{"type":"log","domain":[1,25],"nice":false},"axis":{"orient":"bottom","values":[1,10],"format":"d","ticks":false,"labelPadding":13,"labelFlush":false,"title":"period (days)","titlePadding":2}},"y":{"field":"k","type":"quantitative","scale":{"domain":[0,15],"nice":false,"zero":false},"axis":{"orient":"left","values":[0,5,10,15],"format":"d","ticks":false,"labelPadding":16,"title":"LSP","titlePadding":13}}}},
{"data":{"values":[{}]},"mark":{"type":"text","align":"left","baseline":"alphabetic"},"encoding":{"x":{"datum":1.303,"type":"quantitative","scale":{"type":"log","domain":[1,25],"nice":false},"axis":null},"y":{"datum":13.2,"type":"quantitative","scale":{"domain":[0,15],"nice":false,"zero":false},"axis":null},"text":{"value":"OVRO"}}}]},
{"width":740,"height":526,"resolve":{"axis":{"x":"independent","y":"independent"}},"layer":[
{"data":{"name":"low"},"transform":[{"filter":"datum.p == 'GRT'"}],"mark":{"type":"line","color":"#6cbd45","strokeWidth":2,"clip":true},"encoding":{"x":{"field":"x","type":"quantitative","scale":{"type":"log","domain":[1,25],"nice":false},"axis":{"orient":"top","values":[1,10],"tickSize":-13,"labels":false,"title":null}},"y":{"field":"l","type":"quantitative","scale":{"domain":[0,15],"nice":false,"zero":false},"axis":{"orient":"right","values":[0,5,10,15],"tickSize":-14,"labels":false,"title":null}}}},
{"data":{"name":"grt"},"mark":{"type":"line","color":"#5cbf8e","strokeWidth":2,"clip":true},"encoding":{"x":{"field":"x","type":"quantitative","scale":{"type":"log","domain":[1,25],"nice":false},"axis":{"orient":"top","values":[2,3,4,5,6,7,8,9,20],"tickSize":-6,"labels":false,"title":null}},"y":{"field":"a","type":"quantitative","scale":{"domain":[0,15],"nice":false,"zero":false},"axis":{"orient":"right","values":[1,2,3,4,6,7,8,9,11,12,13,14],"tickSize":-7,"labels":false,"title":null}}}},
{"data":{"name":"grt"},"mark":{"type":"line","color":"#6cbd45","strokeWidth":2,"clip":true},"encoding":{"x":{"field":"x","type":"quantitative","scale":{"type":"log","domain":[1,25],"nice":false},"axis":{"orient":"bottom","values":[1,10],"tickSize":-13,"labels":false,"title":null}},"y":{"field":"b","type":"quantitative","scale":{"domain":[0,15],"nice":false,"zero":false},"axis":{"orient":"left","values":[0,5,10,15],"tickSize":-14,"labels":false,"title":null}}}},
{"data":{"name":"grt"},"mark":{"type":"line","color":"#e8352b","strokeWidth":2,"clip":true},"encoding":{"x":{"field":"x","type":"quantitative","scale":{"type":"log","domain":[1,25],"nice":false},"axis":{"orient":"bottom","values":[2,3,4,5,6,7,8,9,20],"tickSize":-6,"labels":false,"title":null}},"y":{"field":"m","type":"quantitative","scale":{"domain":[0,15],"nice":false,"zero":false},"axis":{"orient":"left","values":[1,2,3,4,6,7,8,9,11,12,13,14],"tickSize":-7,"labels":false,"title":null}}}},
{"data":{"name":"grt"},"mark":{"type":"line","color":"#000","strokeWidth":2,"clip":true},"encoding":{"x":{"field":"x","type":"quantitative","scale":{"type":"log","domain":[1,25],"nice":false},"axis":{"orient":"bottom","values":[1,10],"format":"d","ticks":false,"labelPadding":13,"labelFlush":false,"title":"period (days)","titlePadding":2}},"y":{"field":"k","type":"quantitative","scale":{"domain":[0,15],"nice":false,"zero":false},"axis":{"orient":"left","values":[0,5,10,15],"format":"d","ticks":false,"labelPadding":16,"title":"LSP","titlePadding":13}}}},
{"data":{"values":[{}]},"mark":{"type":"text","align":"left","baseline":"alphabetic"},"encoding":{"x":{"datum":1.422,"type":"quantitative","scale":{"type":"log","domain":[1,25],"nice":false},"axis":null},"y":{"datum":13.2,"type":"quantitative","scale":{"domain":[0,15],"nice":false,"zero":false},"axis":null},"text":{"value":"GRT R"}}}]},
{"width":740,"height":526,"resolve":{"axis":{"x":"independent","y":"independent"}},"layer":[
{"data":{"name":"low"},"transform":[{"filter":"datum.p == 'UVOT'"}],"mark":{"type":"line","color":"#6cbd45","strokeWidth":2,"clip":true},"encoding":{"x":{"field":"x","type":"quantitative","scale":{"type":"log","domain":[1,25],"nice":false},"axis":{"orient":"top","values":[1,10],"tickSize":-13,"labels":false,"title":null}},"y":{"field":"l","type":"quantitative","scale":{"domain":[0,15],"nice":false,"zero":false},"axis":{"orient":"right","values":[0,5,10,15],"tickSize":-14,"labels":false,"title":null}}}},
{"data":{"name":"uvot"},"mark":{"type":"line","color":"#5cbf8e","strokeWidth":2,"clip":true},"encoding":{"x":{"field":"x","type":"quantitative","scale":{"type":"log","domain":[1,25],"nice":false},"axis":{"orient":"top","values":[2,3,4,5,6,7,8,9,20],"tickSize":-6,"labels":false,"title":null}},"y":{"field":"a","type":"quantitative","scale":{"domain":[0,15],"nice":false,"zero":false},"axis":{"orient":"right","values":[1,2,3,4,6,7,8,9,11,12,13,14],"tickSize":-7,"labels":false,"title":null}}}},
{"data":{"name":"uvot"},"mark":{"type":"line","color":"#6cbd45","strokeWidth":2,"clip":true},"encoding":{"x":{"field":"x","type":"quantitative","scale":{"type":"log","domain":[1,25],"nice":false},"axis":{"orient":"bottom","values":[1,10],"tickSize":-13,"labels":false,"title":null}},"y":{"field":"b","type":"quantitative","scale":{"domain":[0,15],"nice":false,"zero":false},"axis":{"orient":"left","values":[0,5,10,15],"tickSize":-14,"labels":false,"title":null}}}},
{"data":{"name":"uvot"},"mark":{"type":"line","color":"#e8352b","strokeWidth":2,"clip":true},"encoding":{"x":{"field":"x","type":"quantitative","scale":{"type":"log","domain":[1,25],"nice":false},"axis":{"orient":"bottom","values":[2,3,4,5,6,7,8,9,20],"tickSize":-6,"labels":false,"title":null}},"y":{"field":"m","type":"quantitative","scale":{"domain":[0,15],"nice":false,"zero":false},"axis":{"orient":"left","values":[1,2,3,4,6,7,8,9,11,12,13,14],"tickSize":-7,"labels":false,"title":null}}}},
{"data":{"name":"uvot"},"mark":{"type":"line","color":"#000","strokeWidth":2,"clip":true},"encoding":{"x":{"field":"x","type":"quantitative","scale":{"type":"log","domain":[1,25],"nice":false},"axis":{"orient":"bottom","values":[1,10],"format":"d","ticks":false,"labelPadding":13,"labelFlush":false,"title":"period (days)","titlePadding":2}},"y":{"field":"k","type":"quantitative","scale":{"domain":[0,15],"nice":false,"zero":false},"axis":{"orient":"left","values":[0,5,10,15],"format":"d","ticks":false,"labelPadding":16,"title":"LSP","titlePadding":13}}}},
{"data":{"values":[{}]},"mark":{"type":"text","align":"left","baseline":"alphabetic"},"encoding":{"x":{"datum":1.264,"type":"quantitative","scale":{"type":"log","domain":[1,25],"nice":false},"axis":null},"y":{"datum":13.2,"type":"quantitative","scale":{"domain":[0,15],"nice":false,"zero":false},"axis":null},"text":{"value":"UVOT W1"}}}]},
{"width":740,"height":526,"resolve":{"axis":{"x":"independent","y":"independent"}},"layer":[
{"data":{"name":"low"},"transform":[{"filter":"datum.p == 'XRT'"}],"mark":{"type":"line","color":"#6cbd45","strokeWidth":2,"clip":true},"encoding":{"x":{"field":"x","type":"quantitative","scale":{"type":"log","domain":[1,25],"nice":false},"axis":{"orient":"top","values":[1,10],"tickSize":-13,"labels":false,"title":null}},"y":{"field":"l","type":"quantitative","scale":{"domain":[0,15],"nice":false,"zero":false},"axis":{"orient":"right","values":[0,5,10,15],"tickSize":-14,"labels":false,"title":null}}}},
{"data":{"name":"xrt"},"mark":{"type":"line","color":"#5cbf8e","strokeWidth":2,"clip":true},"encoding":{"x":{"field":"x","type":"quantitative","scale":{"type":"log","domain":[1,25],"nice":false},"axis":{"orient":"top","values":[2,3,4,5,6,7,8,9,20],"tickSize":-6,"labels":false,"title":null}},"y":{"field":"a","type":"quantitative","scale":{"domain":[0,15],"nice":false,"zero":false},"axis":{"orient":"right","values":[1,2,3,4,6,7,8,9,11,12,13,14],"tickSize":-7,"labels":false,"title":null}}}},
{"data":{"name":"xrt"},"mark":{"type":"line","color":"#6cbd45","strokeWidth":2,"clip":true},"encoding":{"x":{"field":"x","type":"quantitative","scale":{"type":"log","domain":[1,25],"nice":false},"axis":{"orient":"bottom","values":[1,10],"tickSize":-13,"labels":false,"title":null}},"y":{"field":"b","type":"quantitative","scale":{"domain":[0,15],"nice":false,"zero":false},"axis":{"orient":"left","values":[0,5,10,15],"tickSize":-14,"labels":false,"title":null}}}},
{"data":{"name":"xrt"},"mark":{"type":"line","color":"#e8352b","strokeWidth":2,"clip":true},"encoding":{"x":{"field":"x","type":"quantitative","scale":{"type":"log","domain":[1,25],"nice":false},"axis":{"orient":"bottom","values":[2,3,4,5,6,7,8,9,20],"tickSize":-6,"labels":false,"title":null}},"y":{"field":"m","type":"quantitative","scale":{"domain":[0,15],"nice":false,"zero":false},"axis":{"orient":"left","values":[1,2,3,4,6,7,8,9,11,12,13,14],"tickSize":-7,"labels":false,"title":null}}}},
{"data":{"name":"xrt"},"mark":{"type":"line","color":"#000","strokeWidth":2,"clip":true},"encoding":{"x":{"field":"x","type":"quantitative","scale":{"type":"log","domain":[1,25],"nice":false},"axis":{"orient":"bottom","values":[1,10],"format":"d","ticks":false,"labelPadding":13,"labelFlush":false,"title":"period (days)","titlePadding":2}},"y":{"field":"k","type":"quantitative","scale":{"domain":[0,15],"nice":false,"zero":false},"axis":{"orient":"left","values":[0,5,10,15],"format":"d","ticks":false,"labelPadding":16,"title":"LSP","titlePadding":13}}}},
{"data":{"values":[{}]},"mark":{"type":"text","align":"left","baseline":"alphabetic"},"encoding":{"x":{"datum":1.286,"type":"quantitative","scale":{"type":"log","domain":[1,25],"nice":false},"axis":null},"y":{"datum":13.2,"type":"quantitative","scale":{"domain":[0,15],"nice":false,"zero":false},"axis":null},"text":{"value":"Swift/XRT (0.3-2 keV)"}}}]},
{"width":740,"height":526,"resolve":{"axis":{"x":"independent","y":"independent"}},"layer":[
{"data":{"name":"low"},"transform":[{"filter":"datum.p == 'PCA'"}],"mark":{"type":"line","color":"#6cbd45","strokeWidth":2,"clip":true},"encoding":{"x":{"field":"x","type":"quantitative","scale":{"type":"log","domain":[1,25],"nice":false},"axis":{"orient":"top","values":[1,10],"tickSize":-13,"labels":false,"title":null}},"y":{"field":"l","type":"quantitative","scale":{"domain":[0,15],"nice":false,"zero":false},"axis":{"orient":"right","values":[0,5,10,15],"tickSize":-14,"labels":false,"title":null}}}},
{"data":{"name":"pca"},"mark":{"type":"line","color":"#5cbf8e","strokeWidth":2,"clip":true},"encoding":{"x":{"field":"x","type":"quantitative","scale":{"type":"log","domain":[1,25],"nice":false},"axis":{"orient":"top","values":[2,3,4,5,6,7,8,9,20],"tickSize":-6,"labels":false,"title":null}},"y":{"field":"a","type":"quantitative","scale":{"domain":[0,15],"nice":false,"zero":false},"axis":{"orient":"right","values":[1,2,3,4,6,7,8,9,11,12,13,14],"tickSize":-7,"labels":false,"title":null}}}},
{"data":{"name":"pca"},"mark":{"type":"line","color":"#6cbd45","strokeWidth":2,"clip":true},"encoding":{"x":{"field":"x","type":"quantitative","scale":{"type":"log","domain":[1,25],"nice":false},"axis":{"orient":"bottom","values":[1,10],"tickSize":-13,"labels":false,"title":null}},"y":{"field":"b","type":"quantitative","scale":{"domain":[0,15],"nice":false,"zero":false},"axis":{"orient":"left","values":[0,5,10,15],"tickSize":-14,"labels":false,"title":null}}}},
{"data":{"name":"pca"},"mark":{"type":"line","color":"#e8352b","strokeWidth":2,"clip":true},"encoding":{"x":{"field":"x","type":"quantitative","scale":{"type":"log","domain":[1,25],"nice":false},"axis":{"orient":"bottom","values":[2,3,4,5,6,7,8,9,20],"tickSize":-6,"labels":false,"title":null}},"y":{"field":"m","type":"quantitative","scale":{"domain":[0,15],"nice":false,"zero":false},"axis":{"orient":"left","values":[1,2,3,4,6,7,8,9,11,12,13,14],"tickSize":-7,"labels":false,"title":null}}}},
{"data":{"name":"pca"},"mark":{"type":"line","color":"#000","strokeWidth":2,"clip":true},"encoding":{"x":{"field":"x","type":"quantitative","scale":{"type":"log","domain":[1,25],"nice":false},"axis":{"orient":"bottom","values":[1,10],"format":"d","ticks":false,"labelPadding":13,"labelFlush":false,"title":"period (days)","titlePadding":2}},"y":{"field":"k","type":"quantitative","scale":{"domain":[0,15],"nice":false,"zero":false},"axis":{"orient":"left","values":[0,5,10,15],"format":"d","ticks":false,"labelPadding":16,"title":"LSP","titlePadding":13}}}},
{"data":{"values":[{}]},"mark":{"type":"text","align":"left","baseline":"alphabetic"},"encoding":{"x":{"datum":2.62,"type":"quantitative","scale":{"type":"log","domain":[1,25],"nice":false},"axis":null},"y":{"datum":13.2,"type":"quantitative","scale":{"domain":[0,15],"nice":false,"zero":false},"axis":null},"text":{"value":"RXTE/PCA"}}},
{"data":{"values":[{}]},"mark":{"type":"text","align":"left","baseline":"alphabetic","fontSize":36},"encoding":{"x":{"datum":2.28,"type":"quantitative","scale":{"type":"log","domain":[1,25],"nice":false},"axis":null},"y":{"datum":9.4,"type":"quantitative","scale":{"domain":[0,15],"nice":false,"zero":false},"axis":null},"text":{"value":"sampling peak"}}}]},
{"width":740,"height":526,"resolve":{"axis":{"x":"independent","y":"independent"}},"layer":[
{"data":{"name":"low"},"transform":[{"filter":"datum.p == 'WHI'"}],"mark":{"type":"line","color":"#6cbd45","strokeWidth":2,"clip":true},"encoding":{"x":{"field":"x","type":"quantitative","scale":{"type":"log","domain":[1,25],"nice":false},"axis":{"orient":"top","values":[1,10],"tickSize":-13,"labels":false,"title":null}},"y":{"field":"l","type":"quantitative","scale":{"domain":[0,15],"nice":false,"zero":false},"axis":{"orient":"right","values":[0,5,10,15],"tickSize":-14,"labels":false,"title":null}}}},
{"data":{"name":"whi"},"mark":{"type":"line","color":"#5cbf8e","strokeWidth":2,"clip":true},"encoding":{"x":{"field":"x","type":"quantitative","scale":{"type":"log","domain":[1,25],"nice":false},"axis":{"orient":"top","values":[2,3,4,5,6,7,8,9,20],"tickSize":-6,"labels":false,"title":null}},"y":{"field":"a","type":"quantitative","scale":{"domain":[0,15],"nice":false,"zero":false},"axis":{"orient":"right","values":[1,2,3,4,6,7,8,9,11,12,13,14],"tickSize":-7,"labels":false,"title":null}}}},
{"data":{"name":"whi"},"mark":{"type":"line","color":"#6cbd45","strokeWidth":2,"clip":true},"encoding":{"x":{"field":"x","type":"quantitative","scale":{"type":"log","domain":[1,25],"nice":false},"axis":{"orient":"bottom","values":[1,10],"tickSize":-13,"labels":false,"title":null}},"y":{"field":"b","type":"quantitative","scale":{"domain":[0,15],"nice":false,"zero":false},"axis":{"orient":"left","values":[0,5,10,15],"tickSize":-14,"labels":false,"title":null}}}},
{"data":{"name":"whi"},"mark":{"type":"line","color":"#e8352b","strokeWidth":2,"clip":true},"encoding":{"x":{"field":"x","type":"quantitative","scale":{"type":"log","domain":[1,25],"nice":false},"axis":{"orient":"bottom","values":[2,3,4,5,6,7,8,9,20],"tickSize":-6,"labels":false,"title":null}},"y":{"field":"m","type":"quantitative","scale":{"domain":[0,15],"nice":false,"zero":false},"axis":{"orient":"left","values":[1,2,3,4,6,7,8,9,11,12,13,14],"tickSize":-7,"labels":false,"title":null}}}},
{"data":{"name":"whi"},"mark":{"type":"line","color":"#000","strokeWidth":2,"clip":true},"encoding":{"x":{"field":"x","type":"quantitative","scale":{"type":"log","domain":[1,25],"nice":false},"axis":{"orient":"bottom","values":[1,10],"format":"d","ticks":false,"labelPadding":13,"labelFlush":false,"title":"period (days)","titlePadding":2}},"y":{"field":"k","type":"quantitative","scale":{"domain":[0,15],"nice":false,"zero":false},"axis":{"orient":"left","values":[0,5,10,15],"format":"d","ticks":false,"labelPadding":16,"title":"LSP","titlePadding":13}}}},
{"data":{"values":[{}]},"mark":{"type":"text","align":"left","baseline":"alphabetic"},"encoding":{"x":{"datum":1.373,"type":"quantitative","scale":{"type":"log","domain":[1,25],"nice":false},"axis":null},"y":{"datum":13.2,"type":"quantitative","scale":{"domain":[0,15],"nice":false,"zero":false},"axis":null},"text":{"value":"Whipple"}}}]}
]
}
